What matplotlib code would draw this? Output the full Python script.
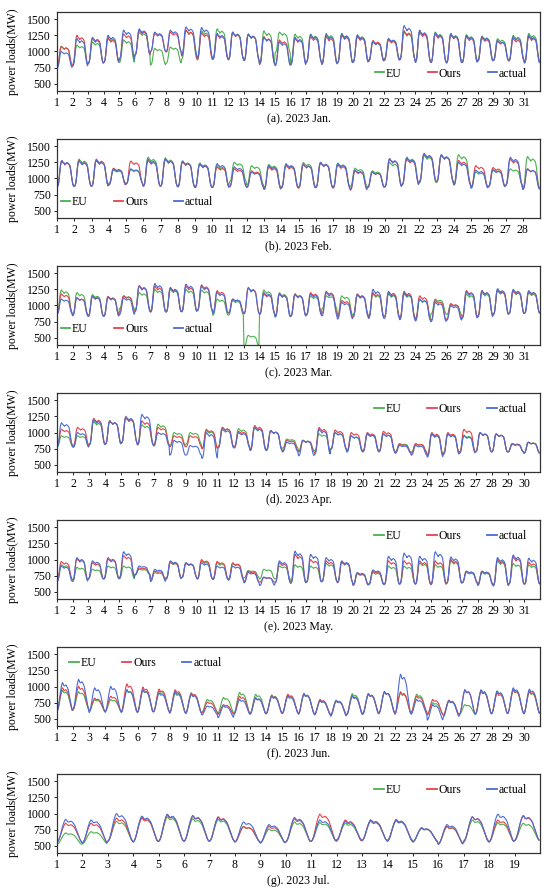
import numpy as np
import matplotlib.pyplot as plt

plt.rcParams['font.family'] = ['Liberation Serif', 'DejaVu Serif']
plt.rcParams['font.size'] = 8.5

# daily low (night trough) and high (daytime level) in MW
jan_actual_hi = [1000,1200,1200,1250,1330,1350,1300,1330,1380,1370,1280,1300,1270,1220,1150,1220,1260,1260,1270,1250,1150,1200,1400,1330,1290,1270,1250,1230,1170,1230,1250]
jan_actual_lo = [750,770,820,830,880,950,1000,1000,950,900,880,870,860,810,780,790,830,800,820,830,850,870,870,830,830,820,830,850,860,860,820]
jan_ours_hi = [1080,1250,1220,1200,1270,1330,1280,1300,1330,1290,1260,1290,1270,1230,1180,1200,1230,1230,1250,1230,1170,1180,1320,1300,1270,1260,1230,1210,1160,1200,1230]
jan_ours_lo = [780,800,810,830,890,940,1000,990,930,870,880,880,860,800,800,810,840,810,830,840,850,860,880,840,830,830,830,850,860,850,830]
jan_eu_hi = [1080,1100,1150,1220,1180,1300,1050,1070,1330,1320,1350,1300,1260,1320,1300,1270,1270,1280,1280,1260,1150,1200,1300,1310,1300,1280,1260,1240,1200,1250,1280]
jan_eu_lo = [780,800,820,830,830,950,790,820,880,900,900,880,870,810,980,830,840,830,830,850,870,890,880,850,840,840,850,870,870,870,850]

feb_actual_hi = [1280,1270,1280,1150,1150,1300,1300,1270,1230,1230,1180,1100,1200,1220,1220,1250,1230,1130,1100,1310,1320,1380,1370,1250,1130,1130,1330,1150]
feb_actual_lo = [870,880,880,900,920,880,880,870,860,860,880,870,840,860,860,860,860,840,860,870,900,950,950,900,850,870,890,830]
feb_ours_hi = [1270,1280,1300,1160,1270,1280,1300,1260,1220,1180,1150,1120,1180,1200,1220,1240,1210,1120,1100,1300,1300,1390,1360,1280,1200,1170,1300,1150]
feb_ours_lo = [880,880,880,900,910,880,880,870,860,860,870,860,830,850,850,860,850,820,860,870,900,960,950,900,860,870,890,840]
feb_eu_hi = [1270,1300,1280,1130,1140,1330,1320,1270,1240,1200,1250,1200,1220,1230,1250,1250,1240,1160,1120,1250,1330,1360,1360,1370,1100,1140,1150,1340]
feb_eu_lo = [880,880,880,930,920,890,880,880,870,870,950,900,860,870,870,870,870,880,870,880,920,930,940,920,880,880,900,850]

mar_actual_hi = [1100,1120,1150,1130,1120,1300,1340,1280,1330,1300,1200,1100,1270,1200,1180,1170,1180,1200,1050,1170,1250,1200,1200,1100,1050,1000,1220,1230,1260,1250,1230]
mar_actual_lo = [870,840,830,830,860,900,900,900,910,920,880,880,870,860,820,830,850,840,790,820,800,800,780,760,750,770,800,820,860,870,880]
mar_ours_hi = [1180,1120,1140,1140,1150,1310,1300,1270,1300,1320,1230,1100,1280,1180,1180,1180,1200,1220,1080,1180,1200,1220,1220,1150,1080,1030,1230,1230,1240,1230,1220]
mar_ours_lo = [880,860,840,840,900,920,900,900,910,920,890,890,880,870,840,840,860,880,820,840,820,820,800,780,770,790,820,830,860,870,880]
mar_eu_hi = [1240,1200,1170,1140,1150,1200,1250,1250,1250,1240,1100,1080,540,1240,1200,1180,1150,1150,1150,1160,1180,1180,1180,1100,1100,1020,1180,1200,1230,1220,1200]
mar_eu_lo = [880,850,840,840,950,930,900,900,900,920,850,850,360,880,830,840,860,950,850,860,830,830,820,800,870,860,820,840,870,880,880]

apr_actual_hi = [1150,1000,1200,1180,1250,1280,1000,880,800,1000,1050,1000,1080,1030,850,880,1050,1000,950,980,980,800,800,980,980,950,1000,980,820,850]
apr_actual_lo = [780,770,810,820,840,810,790,650,650,600,760,760,720,720,700,640,660,740,700,700,700,680,650,620,660,680,700,700,700,680]
apr_ours_hi = [1050,1080,1220,1180,1230,1180,1080,950,950,1050,1080,1020,1110,1030,880,880,1080,1040,1000,1000,1020,820,830,1000,1000,1050,1000,980,830,850]
apr_ours_lo = [800,800,820,820,840,810,810,780,780,750,780,780,730,730,720,700,680,740,720,720,710,690,680,650,680,700,700,700,700,680]
apr_eu_hi = [950,950,1170,1180,1230,1120,1130,1000,1000,1030,1080,1060,1080,1030,900,880,980,1000,950,980,980,830,820,980,980,960,1000,980,830,850]
apr_eu_lo = [780,780,810,820,840,810,800,800,820,750,770,770,740,740,760,720,720,750,700,720,720,700,700,650,690,700,700,700,700,690]

may_actual_hi = [900,1030,980,1010,1120,900,850,980,950,950,900,900,800,730,980,1130,1080,1030,980,800,840,1050,1100,1050,1120,1040,820,820,1030,1070,1020]
may_actual_lo = [660,660,700,700,720,770,660,700,720,700,690,680,640,600,640,630,650,660,650,610,610,610,620,620,620,630,640,600,590,620,620]
may_ours_hi = [970,1010,950,1030,1060,870,820,960,940,1000,970,950,820,720,950,1080,1000,980,970,790,820,980,980,980,980,1000,820,820,1000,1040,960]
may_ours_lo = [680,680,700,700,720,770,700,720,720,700,700,690,660,650,650,640,650,660,640,600,620,620,620,620,610,630,640,620,610,620,620]
may_eu_hi = [920,880,850,900,900,850,800,960,950,980,950,940,830,850,900,920,900,940,960,780,800,900,900,950,920,980,800,800,980,940,920]
may_eu_lo = [700,680,700,700,700,760,680,700,720,700,700,700,720,700,700,640,650,660,650,620,620,620,630,630,630,640,650,620,600,620,620]

jun_actual_hi = [1060,1110,980,1000,950,950,900,920,880,700,700,800,830,850,850,890,780,780,850,890,920,1190,800,720,780,950,950,930,980,960]
jun_actual_lo = [620,650,600,600,600,600,610,590,580,560,520,570,570,580,580,570,560,540,560,570,580,570,570,480,530,560,570,580,580,580]
jun_ours_hi = [980,1000,820,850,1040,990,960,950,900,760,720,850,820,860,880,890,800,780,860,880,920,920,850,800,790,950,930,900,950,930]
jun_ours_lo = [620,640,620,620,610,600,610,590,590,590,570,580,580,580,590,580,570,560,570,580,590,580,600,560,560,570,580,580,590,580]
jun_eu_hi = [940,920,800,800,950,950,930,900,900,800,830,910,880,870,870,880,790,790,890,890,920,900,880,750,780,720,940,930,950,920]
jun_eu_lo = [620,640,610,620,600,600,610,590,590,600,590,590,580,590,590,580,570,560,570,590,590,590,600,570,550,570,580,580,590,580]

jul_actual_hi = [910,900,1000,960,990,970,940,870,830,940,900,880,900,900,780,830,950,990,970]
jul_actual_lo = [550,540,570,560,570,570,570,560,540,560,570,590,580,570,560,520,560,560,580]
jul_ours_hi = [850,850,930,930,980,960,950,800,800,920,990,900,900,910,780,800,950,900,960]
jul_ours_lo = [560,550,570,560,570,570,570,560,550,560,570,570,580,570,560,530,560,560,580]
jul_eu_hi = [700,720,880,950,950,920,910,800,760,870,860,850,880,890,770,800,900,860,850]
jul_eu_lo = [520,530,570,560,570,570,570,560,550,560,570,590,580,590,570,530,580,560,580]

# relative hourly shape of one day (0 = trough, 1 = daytime high)
winter_shape = [0.0,0.02,0.1,0.3,0.6,0.85,0.97,1.0,0.95,0.92,0.9,0.85,0.88,0.9,0.92,0.9,0.88,0.85,0.8,0.65,0.45,0.25,0.1,0.02]
summer_shape = [0.0,0.05,0.15,0.3,0.48,0.65,0.8,0.92,1.0,0.97,0.9,0.88,0.9,0.92,0.9,0.85,0.8,0.72,0.6,0.48,0.35,0.22,0.1,0.03]

captions = ["(a). 2023 Jan.", "(b). 2023 Feb.", "(c). 2023 Mar.", "(d). 2023 Apr.",
            "(e). 2023 May.", "(f). 2023 Jun.", "(g). 2023 Jul."]

panels = [
    (jan_eu_lo, jan_eu_hi, jan_ours_lo, jan_ours_hi, jan_actual_lo, jan_actual_hi, winter_shape),
    (feb_eu_lo, feb_eu_hi, feb_ours_lo, feb_ours_hi, feb_actual_lo, feb_actual_hi, winter_shape),
    (mar_eu_lo, mar_eu_hi, mar_ours_lo, mar_ours_hi, mar_actual_lo, mar_actual_hi, winter_shape),
    (apr_eu_lo, apr_eu_hi, apr_ours_lo, apr_ours_hi, apr_actual_lo, apr_actual_hi, winter_shape),
    (may_eu_lo, may_eu_hi, may_ours_lo, may_ours_hi, may_actual_lo, may_actual_hi, winter_shape),
    (jun_eu_lo, jun_eu_hi, jun_ours_lo, jun_ours_hi, jun_actual_lo, jun_actual_hi, summer_shape),
    (jul_eu_lo, jul_eu_hi, jul_ours_lo, jul_ours_hi, jul_actual_lo, jul_actual_hi, summer_shape),
]

# legend anchor (axes fraction) per panel
legend_pos = [(0.658, 0.22), (0.008, 0.2), (0.008, 0.2), (0.657, 0.8),
              (0.657, 0.8), (0.025, 0.8), (0.657, 0.8)]

green = '#4cb050'
red = '#e8414a'
blue = '#4a6cd4'


def hourly(lo, hi, shape):
    lo = np.asarray(lo, float)
    hi = np.asarray(hi, float)
    return (lo[:, None] + (hi - lo)[:, None] * np.asarray(shape)[None, :]).ravel()


W, H = 550, 894
fig = plt.figure(figsize=(W / 100, H / 100), dpi=100)
left, right = 57, 540

for i, p in enumerate(panels):
    eu_lo, eu_hi, ours_lo, ours_hi, act_lo, act_hi, shape = p
    n = len(act_hi)
    top = 12 + 127 * i
    bot = 91 + 127 * i
    ax = fig.add_axes([left / W, 1 - bot / H, (right - left) / W, (bot - top) / H])

    x = 1 + np.arange(n * 24) / 24
    ax.plot(x, hourly(eu_lo, eu_hi, shape), color=green, lw=0.8, label='EU')
    ax.plot(x, hourly(ours_lo, ours_hi, shape), color=red, lw=0.8, label='Ours')
    ax.plot(x, hourly(act_lo, act_hi, shape), color=blue, lw=0.8, label='actual')

    ax.set_xlim(1, n + 1)
    ax.set_ylim(390, 1610)
    ax.set_xticks(range(1, n + 1))
    ax.set_yticks([500, 750, 1000, 1250, 1500])
    ax.tick_params(direction='out', length=2.5, width=0.6, pad=2, labelsize=8.5)
    for s in ax.spines.values():
        s.set_linewidth(0.9)
        s.set_color('#333333')
    ax.set_ylabel('power loads(MW)', fontsize=8.5)
    ax.yaxis.set_label_coords((19 - left) / (right - left), 0.5)

    leg = ax.legend(ncol=3, loc='center left', bbox_to_anchor=legend_pos[i], frameon=False,
                    handlelength=0.8, handletextpad=0.15, columnspacing=2.2,
                    borderaxespad=0, borderpad=0, fontsize=8.5)
    for ln in leg.get_lines():
        ln.set_linewidth(1.3)

    fig.text((left + right) / 2 / W, 1 - (bot + 28) / H, captions[i],
             ha='center', va='center', fontsize=8.5)

fig.savefig('out.png', dpi=100)
